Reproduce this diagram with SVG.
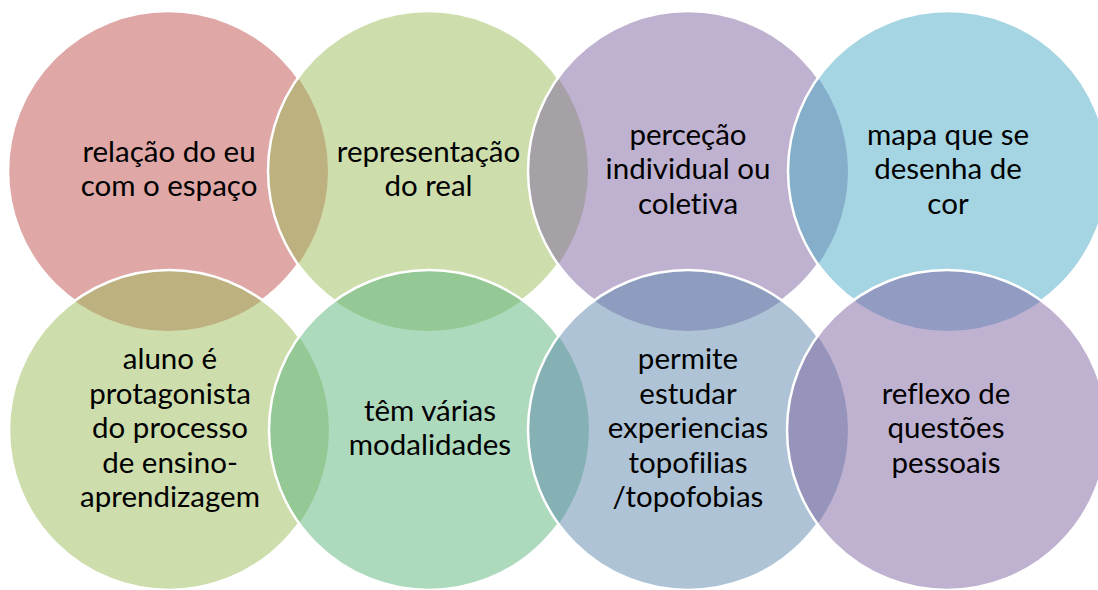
<svg xmlns="http://www.w3.org/2000/svg" width="1098" height="590" viewBox="0 0 1098 590">
<defs>
<style>
.f{fill-opacity:0.5;stroke:none}
.ring{fill:none;stroke:#ffffff;stroke-width:2.5}
.t{font-family:Lato,"Liberation Sans",sans-serif;font-size:29.5px;fill:#000000;text-anchor:middle;font-variant-ligatures:none}
</style>
<mask id="m1" maskUnits="userSpaceOnUse" x="0" y="0" width="1098" height="590"><rect width="1098" height="590" fill="#fff"/><circle cx="428" cy="171" r="160"/><circle cx="688" cy="171" r="160"/><circle cx="948" cy="171" r="160"/><circle cx="169" cy="430" r="160"/><circle cx="429" cy="430" r="160"/><circle cx="688" cy="430" r="160"/><circle cx="947" cy="430" r="160"/></mask>
<mask id="m2" maskUnits="userSpaceOnUse" x="0" y="0" width="1098" height="590"><rect width="1098" height="590" fill="#fff"/><circle cx="688" cy="171" r="160"/><circle cx="948" cy="171" r="160"/><circle cx="169" cy="430" r="160"/><circle cx="429" cy="430" r="160"/><circle cx="688" cy="430" r="160"/><circle cx="947" cy="430" r="160"/></mask>
<mask id="m3" maskUnits="userSpaceOnUse" x="0" y="0" width="1098" height="590"><rect width="1098" height="590" fill="#fff"/><circle cx="948" cy="171" r="160"/><circle cx="169" cy="430" r="160"/><circle cx="429" cy="430" r="160"/><circle cx="688" cy="430" r="160"/><circle cx="947" cy="430" r="160"/></mask>
<mask id="m4" maskUnits="userSpaceOnUse" x="0" y="0" width="1098" height="590"><rect width="1098" height="590" fill="#fff"/><circle cx="169" cy="430" r="160"/><circle cx="429" cy="430" r="160"/><circle cx="688" cy="430" r="160"/><circle cx="947" cy="430" r="160"/></mask>
<mask id="m5" maskUnits="userSpaceOnUse" x="0" y="0" width="1098" height="590"><rect width="1098" height="590" fill="#fff"/><circle cx="429" cy="430" r="160"/><circle cx="688" cy="430" r="160"/><circle cx="947" cy="430" r="160"/></mask>
<mask id="m6" maskUnits="userSpaceOnUse" x="0" y="0" width="1098" height="590"><rect width="1098" height="590" fill="#fff"/><circle cx="688" cy="430" r="160"/><circle cx="947" cy="430" r="160"/></mask>
<mask id="m7" maskUnits="userSpaceOnUse" x="0" y="0" width="1098" height="590"><rect width="1098" height="590" fill="#fff"/><circle cx="947" cy="430" r="160"/></mask>
</defs>
<rect width="1098" height="590" fill="#ffffff"/>
<g id="node1">
<circle class="f" fill="#C0504D" cx="168" cy="171" r="160"/>
<circle class="ring" mask="url(#m1)" cx="168" cy="171" r="160"/>
<text class="t" x="169" y="162">relação do eu</text>
<text class="t" x="169" y="196">com o espaço</text>
</g>
<g id="node2">
<circle class="f" fill="#9BBB59" cx="428" cy="171" r="160"/>
<circle class="ring" mask="url(#m2)" cx="428" cy="171" r="160"/>
<text class="t" x="428.5" y="162">representação</text>
<text class="t" x="428.5" y="196">do real</text>
</g>
<g id="node3">
<circle class="f" fill="#8064A2" cx="688" cy="171" r="160"/>
<circle class="ring" mask="url(#m3)" cx="688" cy="171" r="160"/>
<text class="t" x="688" y="144.5">perceção</text>
<text class="t" x="688" y="179">individual ou</text>
<text class="t" x="688" y="213.5">coletiva</text>
</g>
<g id="node4">
<circle class="f" fill="#4BACC6" cx="948" cy="171" r="160"/>
<circle class="ring" mask="url(#m4)" cx="948" cy="171" r="160"/>
<text class="t" x="948" y="144.5">mapa que se</text>
<text class="t" x="948" y="179">desenha de</text>
<text class="t" x="948" y="213.5">cor</text>
</g>
<g id="node5">
<circle class="f" fill="#9BBB59" cx="169" cy="430" r="160"/>
<circle class="ring" mask="url(#m5)" cx="169" cy="430" r="160"/>
<text class="t" x="170" y="369">aluno é</text>
<text class="t" x="170" y="403.5">protagonista</text>
<text class="t" x="170" y="438">do processo</text>
<text class="t" x="170" y="472.5">de ensino-</text>
<text class="t" x="170" y="507">aprendizagem</text>
</g>
<g id="node6">
<circle class="f" fill="#5BB37B" cx="429" cy="430" r="160"/>
<circle class="ring" mask="url(#m6)" cx="429" cy="430" r="160"/>
<text class="t" x="430" y="420.75">têm várias</text>
<text class="t" x="430" y="455.25">modalidades</text>
</g>
<g id="node7">
<circle class="f" fill="#5D89AD" cx="688" cy="430" r="160"/>
<circle class="ring" mask="url(#m7)" cx="688" cy="430" r="160"/>
<text class="t" x="688" y="369">permite</text>
<text class="t" x="688" y="403.5">estudar</text>
<text class="t" x="688" y="438">experiencias</text>
<text class="t" x="688" y="472.5">topofilias</text>
<text class="t" x="688" y="507">/topofobias</text>
</g>
<g id="node8">
<circle class="f" fill="#8064A2" cx="947" cy="430" r="160"/>
<circle class="ring" cx="947" cy="430" r="160"/>
<text class="t" x="946" y="403.5">reflexo de</text>
<text class="t" x="946" y="438">questões</text>
<text class="t" x="946" y="472.5">pessoais</text>
</g>
<g id="connectors"></g>
</svg>
